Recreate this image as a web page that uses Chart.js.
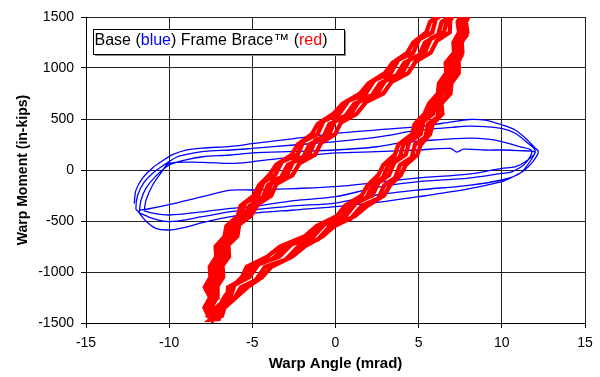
<!DOCTYPE html>
<html>
  <head>
    <title>Warp moment vs warp angle</title>
    <script src="https://cdn.jsdelivr.net/npm/chart.js@4.4.0/dist/chart.umd.min.js"></script>
    <style>
      body { margin: 0; background: #fff; }
    </style>
  </head>
  <body>
    <canvas id="chart" width="600" height="377"></canvas>

    <script type="text/javascript">

      // axis ticks
      const angleTicks = [-15, -10, -5, 0, 5, 10, 15];
      const momentTicks = [-1500, -1000, -500, 0, 500, 1000, 1500];

      // Base (blue) - [warp angle mrad, warp moment in-kips], one array per cycle
      const baseLoop1 = [[-12.1,-330],[-12.0,-200],[-11.6,-80],[-11.0,20],[-10.4,90],[-9.8,150],[-9.0,195],[-8.0,215],[-6.3,232],[-5.0,258],[-2.5,308],[0,360],[2.5,393],[5,425],[7,472],[8,495],[9,488],[10,442],[10.8,392],[11.5,300],[12.0,215],[12.2,180],[11.9,90],[11.3,-10],[10.5,-80],[10,-114],[8,-185],[5,-262],[2.5,-318],[0,-360],[-2.5,-392],[-5,-425],[-6.3,-458],[-8,-515],[-9,-560],[-10,-588],[-10.8,-572],[-11.4,-500],[-11.9,-400]];
      const baseLoop2 = [[-12.0,-380],[-11.9,-250],[-11.5,-120],[-10.9,-20],[-10.2,60],[-9.5,130],[-8.5,168],[-7.5,188],[-6.3,196],[-5,212],[-2.5,245],[0,278],[2.5,322],[5,390],[7,418],[8,430],[9,425],[10,408],[10.8,360],[11.5,272],[12.0,192],[11.8,110],[11.1,-32],[10,-98],[8,-150],[5,-196],[2.5,-245],[0,-324],[-2.5,-352],[-5,-392],[-6.3,-409],[-8,-458],[-10,-507],[-11,-475],[-11.8,-420]];
      const baseLoop3 = [[-11.8,-420],[-11.7,-300],[-11.4,-180],[-10.8,-60],[-10.0,49],[-9,100],[-8,130],[-6.3,147],[-5,168],[-2.5,182],[0,196],[2.5,228],[4,268],[5.9,294],[8,312],[9.3,300],[10,278],[11,232],[11.8,188],[11.4,62],[10.6,-18],[10,-33],[8,-80],[5,-114],[2.5,-170],[0,-262],[-2.5,-300],[-5,-360],[-6.3,-376],[-8,-410],[-10,-441],[-11,-422],[-11.5,-400]];
      const baseLoop4 = [[-11.5,-400],[-11.4,-300],[-11.0,-150],[-10.5,-30],[-10,65],[-8,75],[-6.3,65],[-5,81],[-2.5,128],[0,167],[2.5,180],[5,196],[6.9,212],[7.3,176],[7.7,204],[9,196],[10,196],[11,190],[12.0,176],[11.5,90],[10.8,30],[10,16],[8,-40],[5,-78],[2.5,-122],[0,-163],[-2.5,-182],[-5,-196],[-6.3,-198],[-8,-262],[-10,-340],[-11.2,-380],[-11.75,-392]];

      // Frame Brace (red), one array per cycle
      const braceLoop1 = [[-7.59,-1450],[-7.88,-1350],[-7.54,-1250],[-7.86,-1150],[-7.52,-1050],[-7.56,-950],[-7.17,-850],[-7.21,-750],[-6.67,-650],[-6.56,-550],[-5.87,-450],[-5.70,-350],[-4.91,-250],[-4.60,-150],[-3.98,-50],[-3.57,50],[-2.63,150],[-2.27,250],[-1.43,350],[-1.07,450],[-0.13,550],[0.43,650],[1.47,750],[1.98,850],[2.97,950],[3.43,1050],[4.32,1150],[4.68,1250],[5.47,1350],[5.68,1450],[6.37,1550],[6.48,1620],
        [7.94,1620],[8.13,1550],[7.84,1450],[7.93,1350],[7.59,1250],[7.63,1150],[7.37,1050],[7.41,950],[6.97,850],[6.91,750],[6.37,650],[6.43,550],[5.84,450],[5.68,350],[5.13,250],[4.92,150],[4.23,50],[3.92,-50],[3.28,-150],[2.92,-250],[1.93,-350],[1.18,-450],[-0.06,-550],[-0.77,-650],[-1.85,-750],[-2.61,-850],[-3.85,-950],[-4.41,-1050],[-5.30,-1150],[-5.98,-1250],[-6.67,-1350],[-6.83,-1430],[-7.4,-1470]];
      const braceLoop2 = [[-7.48,-1450],[-7.78,-1320],[-7.44,-1250],[-7.66,-1120],[-7.32,-1050],[-7.36,-920],[-6.97,-850],[-7.01,-720],[-6.47,-650],[-6.36,-520],[-5.67,-450],[-5.43,-320],[-4.64,-250],[-4.33,-120],[-3.63,-50],[-3.22,80],[-2.28,150],[-1.92,280],[-1.08,350],[-0.72,480],[0.22,550],[0.78,680],[1.82,750],[2.33,880],[3.32,950],[3.78,1080],[4.67,1150],[5.03,1280],[5.82,1350],[6.03,1480],[6.72,1550],[6.83,1620],
        [7.71,1620],[8.08,1520],[7.79,1450],[7.88,1320],[7.54,1250],[7.58,1120],[7.17,1050],[7.21,920],[6.77,850],[6.71,720],[6.17,650],[6.15,520],[5.56,450],[5.40,320],[4.78,250],[4.57,120],[3.88,50],[3.57,-80],[2.93,-150],[2.57,-280],[1.58,-350],[0.90,-480],[-0.34,-550],[-1.05,-680],[-2.24,-750],[-3.00,-880],[-4.24,-950],[-4.80,-1080],[-5.69,-1150],[-6.16,-1280],[-6.85,-1350],[-7.01,-1460],[-7.5,-1465]];
      const braceLoop3 = [[-7.38,-1450],[-7.67,-1350],[-7.33,-1275],[-7.47,-1150],[-7.13,-1075],[-7.17,-950],[-6.78,-875],[-6.82,-750],[-6.28,-675],[-6.17,-550],[-5.48,-475],[-5.17,-350],[-4.38,-275],[-4.07,-150],[-3.28,-75],[-2.87,50],[-1.93,125],[-1.57,250],[-0.73,325],[-0.37,450],[0.57,525],[1.13,650],[2.17,725],[2.68,850],[3.67,925],[4.13,1050],[5.02,1125],[5.38,1250],[6.17,1325],[6.38,1450],[7.07,1525],[7.18,1620],
        [7.73,1620],[7.92,1550],[7.63,1475],[7.72,1350],[7.38,1275],[7.42,1150],[6.98,1075],[7.02,950],[6.58,875],[6.52,750],[5.98,675],[5.87,550],[5.28,475],[5.12,350],[4.43,275],[4.22,150],[3.53,75],[3.22,-50],[2.58,-125],[2.22,-250],[1.23,-325],[0.62,-450],[-0.62,-525],[-1.33,-650],[-2.62,-725],[-3.38,-850],[-4.62,-925],[-5.18,-1050],[-6.07,-1125],[-6.33,-1250],[-7.02,-1325],[-7.18,-1430],[-7.45,-1440]];
      const braceLoop4 = [[-7.28,-1450],[-7.57,-1310],[-7.23,-1250],[-7.28,-1110],[-6.94,-1050],[-6.98,-910],[-6.59,-850],[-6.63,-710],[-6.09,-650],[-5.98,-510],[-5.29,-450],[-4.91,-310],[-4.12,-250],[-3.81,-110],[-2.93,-50],[-2.52,90],[-1.58,150],[-1.22,290],[-0.38,350],[-0.02,490],[0.92,550],[1.48,690],[2.52,750],[3.03,890],[4.02,950],[4.48,1090],[5.37,1150],[5.73,1290],[6.52,1350],[6.73,1490],[7.42,1550],[7.53,1620],
        [7.57,1620],[7.76,1530],[7.47,1450],[7.56,1330],[7.22,1250],[7.26,1130],[6.79,1050],[6.83,930],[6.39,850],[6.33,730],[5.79,650],[5.59,530],[5.00,450],[4.84,330],[4.08,250],[3.87,130],[3.18,50],[2.87,-70],[2.23,-150],[1.87,-270],[0.88,-350],[0.34,-470],[-0.90,-550],[-1.61,-670],[-3.01,-750],[-3.77,-870],[-5.01,-950],[-5.57,-1070],[-6.46,-1150],[-6.51,-1270],[-7.20,-1350],[-7.36,-1450],[-7.6,-1455]];
      const braceLoop5 = [[-7.17,-1450],[-7.46,-1340],[-7.12,-1250],[-7.09,-1135],[-6.75,-1050],[-6.79,-935],[-6.40,-850],[-6.44,-735],[-5.90,-650],[-5.79,-535],[-5.10,-450],[-4.65,-335],[-3.86,-250],[-3.55,-135],[-2.58,-50],[-2.17,65],[-1.23,150],[-0.87,265],[-0.03,350],[0.33,465],[1.27,550],[1.83,665],[2.87,750],[3.38,865],[4.37,950],[4.83,1065],[5.72,1150],[6.08,1265],[6.87,1350],[6.9,1465],[7.2,1550],[7.4,1620],
        [7.44,1620],[7.63,1550],[7.34,1450],[7.43,1350],[7.09,1250],[7.13,1150],[6.62,1050],[6.66,950],[6.22,850],[6.16,750],[5.62,650],[5.35,550],[4.76,450],[4.60,350],[3.78,250],[3.57,150],[2.88,50],[2.57,-50],[1.93,-150],[1.57,-250],[0.58,-350],[0.10,-450],[-1.14,-550],[-1.85,-650],[-3.34,-750],[-4.10,-850],[-5.34,-950],[-5.62,-1050],[-6.25,-1150],[-6.70,-1250],[-7.02,-1350],[-7.32,-1430],[-7.35,-1445]];

      const baseLoops = [baseLoop1, baseLoop2, baseLoop3, baseLoop4];
      const braceLoops = [braceLoop1, braceLoop2, braceLoop3, braceLoop4, braceLoop5];

      const FONT = 'Liberation Sans, Arial, sans-serif';

      function toPoints(loops) {
        const pts = [];
        loops.forEach((loop) => {
          loop.forEach((p) => pts.push({ x: p[0], y: p[1] }));
        });
        return pts;
      }

      // legend box with coloured words, drawn on top of the plot
      const legendBox = {
        id: 'legendBox',
        afterDraw(chart) {
          const ctx = chart.ctx;
          const a = chart.chartArea;
          const bx = a.left + 7, by = a.top + 12, bw = 251, bh = 25;
          ctx.save();
          ctx.fillStyle = '#888';
          ctx.fillRect(bx + 2, by + 2, bw, bh);
          ctx.fillStyle = '#fff';
          ctx.fillRect(bx, by, bw, bh);
          ctx.strokeStyle = '#000';
          ctx.lineWidth = 1;
          ctx.strokeRect(bx + 0.5, by + 0.5, bw, bh);
          ctx.font = '16px ' + FONT;
          ctx.textBaseline = 'alphabetic';
          const parts = [['Base (', '#000'], ['blue', '#0000ff'], [') Frame Brace™ (', '#000'], ['red', '#ff0000'], [')', '#000']];
          let x = bx + 1.5;
          parts.forEach((p) => {
            ctx.fillStyle = p[1];
            ctx.fillText(p[0], x, by + 16);
            x += ctx.measureText(p[0]).width;
          });
          ctx.restore();
        }
      };

      const ctx = document.getElementById('chart').getContext('2d');

      const myChart = new Chart(ctx, {
        type: 'scatter',
        data: {
          datasets: [
            {
              label: 'Frame Brace',
              data: toPoints(braceLoops),
              showLine: true,
              borderColor: '#ff0000',
              borderWidth: 4.3,
              borderJoinStyle: 'miter',
              pointRadius: 0,
              tension: 0,
              order: 0
            },
            {
              label: 'Base',
              data: toPoints(baseLoops),
              showLine: true,
              borderColor: '#0000ff',
              borderWidth: 1.3,
              pointRadius: 0,
              tension: 0.3,
              order: 1
            }
          ]
        },
        options: {
          responsive: false,
          animation: false,
          layout: { padding: { left: 0, top: 17, right: 15, bottom: 0 } },
          plugins: {
            legend: { display: false },
            tooltip: { enabled: false }
          },
          scales: {
            x: {
              type: 'linear',
              min: angleTicks[0],
              max: angleTicks[angleTicks.length - 1],
              afterBuildTicks: (s) => { s.ticks = angleTicks.map((v) => ({ value: v })); },
              afterFit: (s) => { s.height = 54; },
              ticks: { color: '#000', font: { family: FONT, size: 14 }, padding: 7, maxRotation: 0, callback: (v) => String(v) },
              grid: { color: '#222', tickLength: 5, tickColor: '#000' },
              border: { color: '#000' },
              title: {
                display: true,
                text: 'Warp Angle (mrad)',
                color: '#000',
                font: { family: FONT, size: 15, weight: 'bold' },
                padding: { top: 0, bottom: 4 }
              }
            },
            y: {
              type: 'linear',
              min: momentTicks[0],
              max: momentTicks[momentTicks.length - 1],
              afterBuildTicks: (s) => { s.ticks = momentTicks.map((v) => ({ value: v })); },
              afterFit: (s) => { s.width = 86; },
              ticks: { color: '#000', font: { family: FONT, size: 14 }, padding: 7, callback: (v) => String(v) },
              grid: { color: '#222', tickLength: 5, tickColor: '#000' },
              border: { color: '#000' },
              title: {
                display: true,
                text: 'Warp Moment (in-kips)',
                color: '#000',
                font: { family: FONT, size: 14, weight: 'bold' },
                padding: { top: 15, bottom: 0 }
              }
            }
          }
        },
        plugins: [legendBox]
      });

    </script>
  </body>
</html>
